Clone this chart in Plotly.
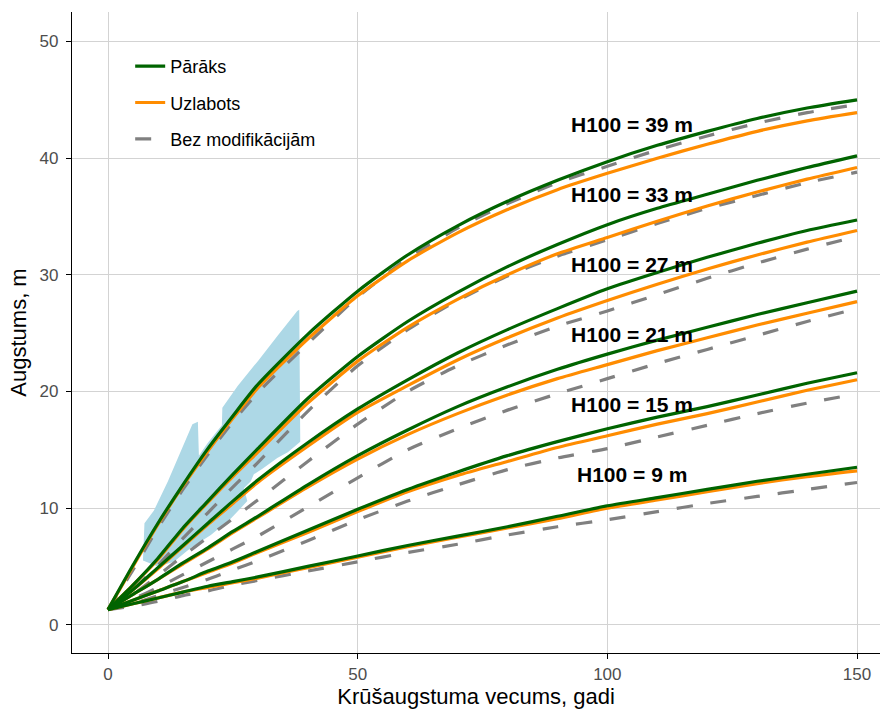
import plotly.graph_objects as go

# ---- data ----
AGES = [0, 5, 10, 15, 20, 25, 30, 40, 50, 60, 70, 80, 90, 100, 110, 120, 130, 140, 150]
SITE_INDEX = [39, 33, 27, 21, 15, 9]

PARAKS = [
    [1.3, 5.1, 8.7, 12.0, 15.1, 17.9, 20.6, 24.9, 28.6, 31.7, 34.2, 36.3, 38.1, 39.7, 41.1, 42.3, 43.4, 44.3, 45.0],
    [1.3, 3.4, 5.7, 8.3, 10.6, 12.9, 15.1, 19.4, 23.0, 26.0, 28.5, 30.7, 32.6, 34.3, 35.7, 36.9, 38.1, 39.2, 40.2],
    [1.3, 3.0, 4.9, 6.8, 8.7, 10.6, 12.4, 15.6, 18.5, 21.0, 23.3, 25.3, 27.1, 28.8, 30.2, 31.5, 32.7, 33.8, 34.7],
    [1.3, 2.6, 3.9, 5.3, 6.6, 8.0, 9.3, 12.0, 14.5, 16.7, 18.7, 20.4, 21.9, 23.2, 24.4, 25.5, 26.6, 27.6, 28.6],
    [1.3, 2.1, 2.9, 3.7, 4.6, 5.4, 6.3, 8.1, 9.9, 11.6, 13.1, 14.5, 15.7, 16.8, 17.8, 18.7, 19.7, 20.7, 21.6],
    [1.3, 1.8, 2.3, 2.8, 3.3, 3.7, 4.1, 5.0, 5.9, 6.8, 7.6, 8.4, 9.3, 10.2, 10.9, 11.6, 12.3, 12.9, 13.5],
]
UZLABOTS = [
    [1.3, 5.0, 8.6, 11.9, 14.9, 17.7, 20.3, 24.5, 28.2, 31.2, 33.6, 35.6, 37.3, 38.7, 40.0, 41.2, 42.3, 43.2, 43.9],
    [1.3, 3.4, 5.6, 8.2, 10.5, 12.7, 14.8, 19.0, 22.6, 25.5, 27.9, 30.0, 31.8, 33.2, 34.6, 35.9, 37.1, 38.2, 39.2],
    [1.3, 3.0, 4.8, 6.7, 8.6, 10.4, 12.2, 15.3, 18.2, 20.5, 22.7, 24.6, 26.3, 27.8, 29.2, 30.5, 31.7, 32.8, 33.8],
    [1.3, 2.6, 3.9, 5.2, 6.5, 7.9, 9.2, 11.8, 14.2, 16.3, 18.1, 19.7, 21.1, 22.3, 23.5, 24.6, 25.7, 26.7, 27.7],
    [1.3, 2.1, 2.9, 3.7, 4.5, 5.3, 6.2, 7.9, 9.7, 11.4, 12.8, 14.0, 15.2, 16.2, 17.2, 18.1, 19.1, 20.1, 21.0],
    [1.3, 1.8, 2.3, 2.8, 3.2, 3.6, 4.0, 4.9, 5.8, 6.7, 7.5, 8.3, 9.1, 10.0, 10.7, 11.4, 12.1, 12.7, 13.2],
]
BEZ_MOD = [
    [1.3, 4.7, 8.3, 11.6, 14.6, 17.4, 19.9, 24.1, 28.1, 31.4, 34.0, 36.1, 37.9, 39.3, 40.7, 41.9, 43.0, 43.9, 44.6],
    [1.3, 3.0, 5.1, 7.4, 9.6, 11.8, 13.9, 18.3, 22.2, 25.3, 27.8, 29.9, 31.6, 33.0, 34.4, 35.7, 36.8, 37.9, 38.8],
    [1.3, 2.6, 4.2, 5.9, 7.5, 9.1, 10.7, 14.0, 17.2, 20.0, 22.2, 24.0, 25.6, 26.9, 28.3, 29.7, 31.0, 32.2, 33.3],
    [1.3, 2.2, 3.2, 4.3, 5.4, 6.5, 7.6, 10.1, 12.6, 15.0, 16.8, 18.4, 19.8, 21.1, 22.4, 23.6, 24.8, 26.0, 27.1],
    [1.3, 1.8, 2.5, 3.2, 3.9, 4.7, 5.5, 7.2, 9.0, 10.6, 12.0, 13.3, 14.3, 15.1, 16.1, 17.1, 18.1, 19.0, 19.8],
    [1.3, 1.6, 2.0, 2.5, 2.9, 3.4, 3.8, 4.6, 5.4, 6.2, 6.9, 7.7, 8.4, 9.0, 9.7, 10.4, 11.0, 11.6, 12.2],
]

# observed data range (light blue area)
DATA_AGE = [7.0, 7.3, 9.2, 12.0, 16.9, 18.0, 18.2, 20.0, 22.8, 22.9, 26.0, 30.0, 34.0, 37.9, 38.3,
            38.5, 36.0, 33.9, 31.0, 29.2, 28.6, 27.2, 27.9, 24.6, 20.6, 16.6, 13.2, 10.0, 7.0]
DATA_H = [5.5, 8.7, 9.8, 12.3, 17.2, 17.4, 14.5, 15.6, 17.1, 18.6, 20.5, 22.6, 24.8, 26.9, 27.0,
          15.7, 14.8, 14.3, 13.4, 12.9, 12.3, 11.7, 10.6, 9.1, 7.7, 6.6, 5.4, 5.0, 5.5]

LABEL_AGE = 105
LABEL_OFFSET = 3.9

FONT = "Liberation Sans, Arial, sans-serif"


def joined(curves):
    xs, ys = [], []
    for c in curves:
        xs += AGES + [None]
        ys += c + [None]
    return xs, ys


fig = go.Figure()

fig.add_trace(go.Scatter(x=DATA_AGE, y=DATA_H, fill="toself", fillcolor="#ADD8E6",
                         mode="lines", line=dict(width=0, color="#ADD8E6"),
                         showlegend=False, hoverinfo="skip"))

series = [
    ("Bez modifikācijām", BEZ_MOD, "#808080", "16px,18px", 3),
    ("Uzlabots", UZLABOTS, "#FF8C00", "solid", 2),
    ("Pārāks", PARAKS, "#006400", "solid", 1),
]
for name, curves, color, dash, rank in series:
    xs, ys = joined(curves)
    fig.add_trace(go.Scatter(x=xs, y=ys, mode="lines", name=name,
                             line=dict(color=color, width=3.2, dash=dash, shape="spline", smoothing=0.6),
                             legendrank=rank, legendgroup=name, connectgaps=False))

for h in SITE_INDEX:
    fig.add_annotation(x=LABEL_AGE, y=h + LABEL_OFFSET, text=f"<b>H100 = {h} m</b>",
                       showarrow=False, xanchor="center", yanchor="middle",
                       font=dict(family=FONT, size=21, color="black"))

axis_common = dict(showgrid=True, gridcolor="#D3D3D3", gridwidth=1.3, zeroline=False,
                   showline=True, linecolor="black", linewidth=1.3, ticks="outside",
                   ticklen=5, tickwidth=1.2, tickcolor="black",
                   tickfont=dict(family=FONT, size=17, color="#4D4D4D"))

fig.update_xaxes(range=[-7.21, 154.6], tickvals=[0, 50, 100, 150],
                 title=dict(text="Krūšaugstuma vecums, gadi", standoff=6,
                            font=dict(family=FONT, size=22, color="black")),
                 **axis_common)
fig.update_yaxes(range=[-2.42, 52.53], tickvals=[0, 10, 20, 30, 40, 50],
                 ticklabelstandoff=4,
                 title=dict(text="Augstums, m", standoff=6,
                            font=dict(family=FONT, size=22, color="black")),
                 **axis_common)

fig.update_layout(
    width=880, height=712,
    margin=dict(l=72, r=0, t=12, b=59),
    plot_bgcolor="white", paper_bgcolor="white",
    font=dict(family=FONT),
    legend=dict(x=0.072, y=0.944, xanchor="left", yanchor="top",
                font=dict(family=FONT, size=18, color="black"),
                bgcolor="rgba(0,0,0,0)", tracegroupgap=10),
)

fig.write_html("out.html")
